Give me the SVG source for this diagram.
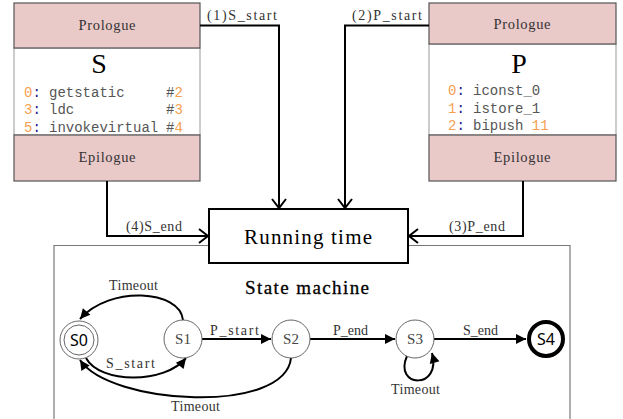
<svg xmlns="http://www.w3.org/2000/svg" width="623" height="419" viewBox="0 0 623 419">
  <style>
    .band { fill: #eac9c9; stroke: #555; stroke-width: 1.2; }
    .body { fill: #fff; stroke: #999; stroke-width: 1; }
    .lbl { font-family: "Liberation Serif", "DejaVu Serif", serif; font-size: 14px; fill: #333; }
    .band-t { font-family: "Liberation Serif", serif; font-size: 14.5px; fill: #333; text-anchor: middle; }
    .big { font-family: "Liberation Serif", serif; font-size: 28px; fill: #000; text-anchor: middle; }
    .code { font-family: "Liberation Mono", monospace; font-size: 14px; fill: #555; }
    .num { fill: #f5a050; }
    .col { fill: #1a1a8c; }
    .wire { fill: none; stroke: #000; stroke-width: 2; }
    .edge { fill: none; stroke: #000; stroke-width: 2; }
    .state { fill: #fff; stroke: #666; stroke-width: 1; }
    .st-t { font-family: "Liberation Serif", serif; font-size: 15px; fill: #444; text-anchor: middle; }
    .st-b { font-family: "Noto Sans", "Liberation Sans", sans-serif; font-size: 16px; fill: #000; text-anchor: middle; }
  </style>
  <defs>
    <marker id="vee" markerUnits="userSpaceOnUse" markerWidth="12" markerHeight="18" refX="9" refY="7" orient="auto" overflow="visible">
      <path d="M0,0 L9,7 L0,14" fill="none" stroke="#000" stroke-width="2"/>
    </marker>
    <marker id="tri" markerUnits="userSpaceOnUse" markerWidth="12" markerHeight="12" refX="10" refY="5" orient="auto" overflow="visible">
      <path d="M0,0 L10,5 L0,10 z" fill="#000"/>
    </marker>
  </defs>

  <!-- state machine frame -->
  <g id="frame">
    <path d="M54,425 L54,245.5 L570,245.5 L570,425" fill="none" stroke="#777" stroke-width="1.2"/>
    <text x="245" y="294" font-family="Liberation Serif, serif" font-size="19" fill="#000" stroke="#000" stroke-width="0.3" textLength="124">State machine</text>
  </g>

  <!-- method S -->
  <g id="methodS">
    <rect class="body" x="14" y="48" width="186" height="87"/>
    <rect class="band" x="14" y="3" width="186" height="45"/>
    <rect class="band" x="14" y="135" width="186" height="46"/>
    <text class="band-t" x="107" y="30" textLength="57">Prologue</text>
    <text class="band-t" x="107" y="162" textLength="57">Epilogue</text>
    <text class="big" x="99" y="73">S</text>
    <text class="code" y="97"><tspan x="24" class="num">0</tspan><tspan class="col">:</tspan><tspan x="49">getstatic</tspan><tspan x="166">#</tspan><tspan class="num">2</tspan></text>
    <text class="code" y="114"><tspan x="24" class="num">3</tspan><tspan class="col">:</tspan><tspan x="49">ldc</tspan><tspan x="166">#</tspan><tspan class="num">3</tspan></text>
    <text class="code" y="132"><tspan x="24" class="num">5</tspan><tspan class="col">:</tspan><tspan x="49">invokevirtual</tspan><tspan x="166">#</tspan><tspan class="num">4</tspan></text>
  </g>

  <!-- method P -->
  <g id="methodP">
    <rect class="body" x="429" y="44" width="187" height="91"/>
    <rect class="band" x="429" y="3" width="187" height="41"/>
    <rect class="band" x="429" y="135" width="187" height="46"/>
    <text class="band-t" x="522" y="29" textLength="57">Prologue</text>
    <text class="band-t" x="522" y="162" textLength="57">Epilogue</text>
    <text class="big" x="519" y="73">P</text>
    <text class="code" y="95"><tspan x="448" class="num">0</tspan><tspan class="col">:</tspan><tspan x="473">iconst_0</tspan></text>
    <text class="code" y="113"><tspan x="448" class="num">1</tspan><tspan class="col">:</tspan><tspan x="473">istore_1</tspan></text>
    <text class="code" y="130"><tspan x="448" class="num">2</tspan><tspan class="col">:</tspan><tspan x="473">bipush </tspan><tspan class="num">11</tspan></text>
  </g>

  <!-- runtime -->
  <g id="runtime">
    <rect x="209" y="209" width="199" height="54" fill="#fff" stroke="#000" stroke-width="2"/>
    <text x="244" y="244" font-family="Liberation Serif, serif" font-size="21" textLength="128">Running time</text>
  </g>

  <!-- connectors between methods and runtime -->
  <g id="connectors">
    <path class="wire" d="M200,25.5 L279,25.5 L279,208" marker-end="url(#vee)"/>
    <path class="wire" d="M429,25.5 L345,25.5 L345,208" marker-end="url(#vee)"/>
    <path class="wire" d="M107,181 L107,236 L208,236" marker-end="url(#vee)"/>
    <path class="wire" d="M523,181 L523,236 L409,236" marker-end="url(#vee)"/>
    <text class="lbl" x="207" y="20" textLength="70">(1)S_start</text>
    <text class="lbl" x="352" y="20" textLength="70">(2)P_start</text>
    <text class="lbl" x="126" y="231" textLength="56">(4)S_end</text>
    <text class="lbl" x="449" y="231" textLength="56">(3)P_end</text>
  </g>

  <!-- state transitions -->
  <g id="transitions">
    <path class="edge" d="M202,339 L271,339" marker-end="url(#tri)"/>
    <path class="edge" d="M310,339 L395,339" marker-end="url(#tri)"/>
    <path class="edge" d="M434,339 L526,339" marker-end="url(#tri)"/>
    <path class="edge" d="M183,320 C180,290 110,285 80,319" marker-end="url(#tri)"/>
    <path class="edge" d="M86,358 C100,384 165,384 186,358" marker-end="url(#tri)"/>
    <path class="edge" d="M291,358 C285,415 110,405 80,360" marker-end="url(#tri)"/>
    <path class="edge" d="M407,356 C393,388 442,390 432,353" marker-end="url(#tri)"/>
    <text class="lbl" x="210" y="335" textLength="49">P_start</text>
    <text class="lbl" x="333" y="335" textLength="35">P_end</text>
    <text class="lbl" x="463" y="335" textLength="35">S_end</text>
    <text class="lbl" x="109" y="290" textLength="49">Timeout</text>
    <text class="lbl" x="106" y="368" textLength="49">S_start</text>
    <text class="lbl" x="171" y="411" textLength="49">Timeout</text>
    <text class="lbl" x="391" y="394" textLength="49">Timeout</text>
  </g>

  <!-- states -->
  <g id="S0">
    <circle class="state" cx="79" cy="340" r="19"/>
    <circle class="state" cx="79" cy="340" r="15"/>
    <text class="st-b" x="79" y="346">S0</text>
  </g>
  <g id="S1">
    <circle class="state" cx="183" cy="339" r="19"/>
    <text class="st-t" x="183" y="344">S1</text>
  </g>
  <g id="S2">
    <circle class="state" cx="291" cy="339" r="19"/>
    <text class="st-t" x="291" y="344">S2</text>
  </g>
  <g id="S3">
    <circle class="state" cx="415" cy="339" r="19"/>
    <text class="st-t" x="415" y="344">S3</text>
  </g>
  <g id="S4">
    <circle cx="546" cy="339" r="17" fill="#fff" stroke="#000" stroke-width="4"/>
    <text class="st-b" x="546" y="345">S4</text>
  </g>
</svg>
